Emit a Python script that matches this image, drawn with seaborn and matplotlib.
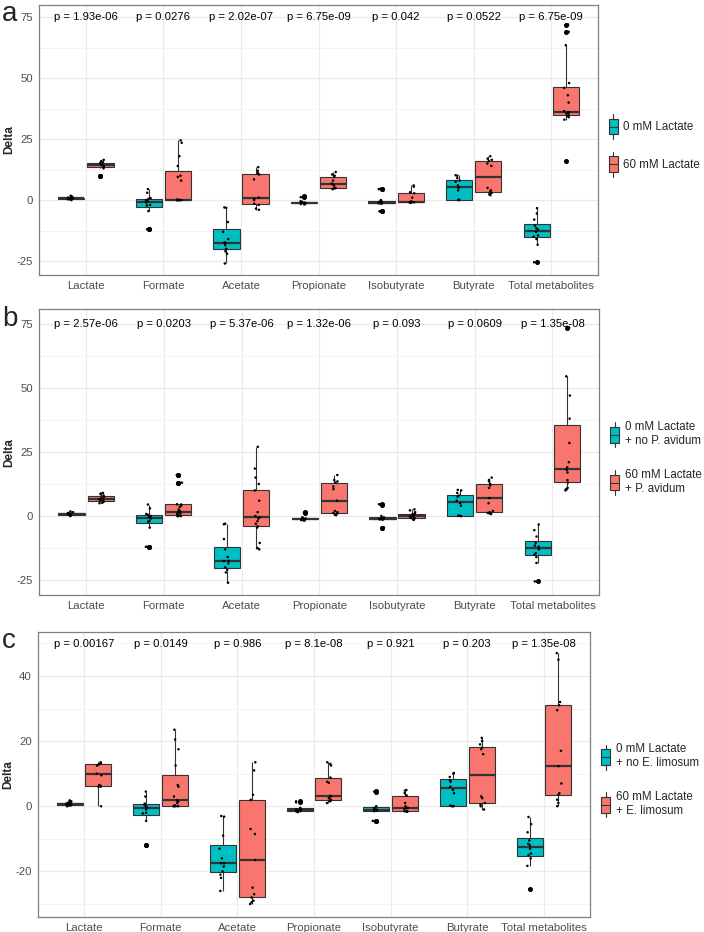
import numpy as np
import pandas as pd
import matplotlib
matplotlib.use("Agg")
import matplotlib.pyplot as plt
import seaborn as sns
from matplotlib.legend_handler import HandlerBase
from matplotlib.patches import Patch, Rectangle
from matplotlib.lines import Line2D

# categories
metabolites = ["Lactate", "Formate", "Acetate", "Propionate",
               "Isobutyrate", "Butyrate", "Total metabolites"]

# 0 mM lactate controls (same in every panel), one list per metabolite
ctrl = [
    [0.0, 0.2, 0.3, 0.5, 0.6, 0.7, 0.8, 0.9, 1.0, 1.2, 1.5, 1.8],
    [-12, -12, -4.5, -2.2, -2, -1, -0.3, 0, 0.5, 0.8, 3, 4.5],
    [-26, -22, -21, -20, -18.5, -17.5, -17.5, -16, -13, -9, -3.2, -3],
    [-1.8, -1.6, -1.5, -1.3, -1.2, -1.1, -1.0, -0.9, -0.7, -0.5, 1.2, 1.5],
    [-4.6, -4.5, -1.5, -1.3, -1.2, -1.0, -1.0, -0.8, -0.5, 0, 4.5, 4.6],
    [0, 0, 0.1, 0.2, 4, 5, 6, 7.5, 8, 9, 10, 10.2],
    [-25.5, -18.3, -16, -15, -14.5, -13, -12, -11.5, -10.5, -8, -5.5, -3.3],
]

# 60 mM lactate (panel a)
trt_a = [
    [10, 10, 13, 13.5, 14, 14.3, 14.5, 15, 15.2, 15.5, 16, 16.5],
    [0, 0, 0, 0, 0, 0, 0, 0.2, 8, 9.5, 10, 14, 18, 23.5, 24.5],
    [-4, -3.5, -2, -1.5, 0, 0.5, 1, 8.5, 10.5, 11, 12, 13.5],
    [4.5, 4.8, 5, 5, 6, 6.5, 6.8, 8, 9.5, 10, 10.5, 11.5],
    [-1.1, -1, -1, -0.9, -0.8, -0.7, -0.6, 1, 2.8, 3.2, 5.5, 6],
    [2, 2.5, 3, 3.5, 4, 5, 14, 15, 16, 16.5, 17, 18],
    [16, 33, 34, 34.5, 35, 35.5, 36, 36, 36.5, 40, 43, 46, 48, 63.5, 69, 72],
]

# 60 mM lactate + P. avidum (panel b)
trt_b = [
    [5, 5.2, 5.5, 6, 6.2, 6.5, 6.8, 7, 7.5, 8, 8.5, 8.8, 9],
    [0, 0, 0, 0, 0.2, 0.3, 0.5, 0.8, 1, 1.5, 2, 2.5, 3.5, 4, 4.5, 4.6, 13, 13, 16, 16],
    [-13, -12.5, -10.5, -4.5, -4, -3, -2, -1, -0.5, 0, 1.5, 6, 10, 12.5, 15, 18.5, 27],
    [0.3, 0.5, 1, 1.2, 1.5, 2, 6, 10.5, 11.5, 13, 13.5, 14, 16],
    [-1.5, -1, -0.8, -0.6, -0.3, 0, 0.2, 0.5, 0.7, 0.9, 1.5, 2.2, 2.6],
    [0.8, 1, 1.2, 1.5, 2, 5, 7, 11, 12, 12.5, 13.5, 14, 15],
    [10, 10.5, 11, 13, 14, 17, 18, 19, 21, 28.5, 38, 47, 54.5, 73.5],
]

# 60 mM lactate + E. limosum (panel c)
trt_c = [
    [0, 6, 6, 6.3, 6.5, 9.5, 10, 12.5, 12.8, 13, 13.2, 13.5],
    [0, 0, 0, 0, 0.3, 1, 1.5, 1.8, 3, 6, 6.5, 12.5, 17.5, 20.5, 23.5],
    [-30, -29.5, -29, -28, -27, -25, -16.5, -8.5, -7, 2, 3.5, 11, 13.5],
    [1, 1.5, 1.8, 2, 2.5, 3, 3.2, 7.2, 7.5, 8.8, 12.5, 13, 13.5],
    [-1.7, -1.6, -1.5, -1.5, -0.8, -0.6, -0.5, 0, 1, 3.3, 4, 4.8, 5],
    [-1, 0, 0.5, 1, 2.5, 3, 16, 17.5, 18, 19, 20, 21],
    [0, 1, 2, 3.5, 4, 7, 12.3, 17, 29.5, 31, 32, 45, 47],
]

p_a = ["1.93e-06", "0.0276", "2.02e-07", "6.75e-09", "0.042", "0.0522", "6.75e-09"]
p_b = ["2.57e-06", "0.0203", "5.37e-06", "1.32e-06", "0.093", "0.0609", "1.35e-08"]
p_c = ["0.00167", "0.0149", "0.986", "8.1e-08", "0.921", "0.203", "1.35e-08"]

labels_a = ["0 mM Lactate", "60 mM Lactate"]
labels_b = ["0 mM Lactate\n+ no P. avidum", "60 mM Lactate\n+ P. avidum"]
labels_c = ["0 mM Lactate\n+ no E. limosum", "60 mM Lactate\n+ E. limosum"]

TEAL = "#00BFC4"
SALMON = "#F8766D"
EDGE = "#333333"

sns.set_style("whitegrid")
plt.rcParams["font.family"] = ["Liberation Sans", "DejaVu Sans"]
plt.rcParams["axes.unicode_minus"] = False


class BoxKey(HandlerBase):
    # ggplot-like boxplot legend key
    def create_artists(self, legend, orig_handle, xdescent, ydescent,
                       width, height, fontsize, trans):
        x0, y0 = -xdescent, -ydescent
        cx = x0 + width / 2
        whisk = Line2D([cx, cx], [y0 - 0.3 * height, y0 + 1.3 * height],
                       color=EDGE, lw=0.8, transform=trans)
        box = Rectangle((x0, y0), width, height,
                        facecolor=orig_handle.get_facecolor(),
                        edgecolor=EDGE, lw=0.8, transform=trans)
        med = Line2D([x0, x0 + width], [y0 + height / 2] * 2,
                     color=EDGE, lw=0.8, transform=trans)
        return [whisk, box, med]


def make_df(trt, labels):
    rows = []
    for m, c, t in zip(metabolites, ctrl, trt):
        rows += [(m, labels[0], v) for v in c]
        rows += [(m, labels[1], v) for v in t]
    return pd.DataFrame(rows, columns=["metabolite", "group", "value"])


def panel(ax, trt, labels, pvals, ylim, yticks, minor, ptext_y, letter):
    df = make_df(trt, labels)
    pal = {labels[0]: TEAL, labels[1]: SALMON}
    sns.boxplot(data=df, x="metabolite", y="value", hue="group",
                order=metabolites, hue_order=labels, palette=pal,
                width=0.75, gap=0.1, linecolor=EDGE, linewidth=0.8,
                saturation=1, whis=1.5, legend=False, ax=ax,
                capprops={"linewidth": 0},
                medianprops={"linewidth": 1.6},
                flierprops=dict(marker="o", markersize=2.6,
                                markerfacecolor="black",
                                markeredgecolor="black"))
    sns.stripplot(data=df, x="metabolite", y="value", hue="group",
                  order=metabolites, hue_order=labels,
                  palette=["black", "black"], dodge=True, jitter=0.07,
                  size=1.8, linewidth=0, legend=False, ax=ax)
    for i, p in enumerate(pvals):
        ax.text(i, ptext_y, f"p = {p}", ha="center", va="center",
                fontsize=8.1, color="black")
    ax.set_ylim(*ylim)
    ax.set_yticks(yticks)
    ax.set_yticks(minor, minor=True)
    ax.set_xlim(-0.6, len(metabolites) - 0.4)
    ax.grid(True, which="major", color="#EBEBEB", lw=0.9)
    ax.grid(True, which="minor", axis="y", color="#F2F2F2", lw=0.6)
    ax.set_axisbelow(True)
    ax.set_xlabel("")
    ax.set_ylabel("Delta", fontsize=8.5, fontweight="bold", labelpad=1)
    ax.tick_params(axis="both", which="major", labelsize=8.2,
                   labelcolor="#4D4D4D", length=2.5, color="#333333",
                   width=0.6, pad=2)
    ax.tick_params(axis="y", which="minor", length=0)
    for s in ax.spines.values():
        s.set_color("#7F7F7F")
        s.set_linewidth(0.9)
    handles = [Patch(facecolor=TEAL), Patch(facecolor=SALMON)]
    ax.legend(handles, labels, handler_map={Patch: BoxKey()},
              loc="center left", bbox_to_anchor=(1.012, 0.48), frameon=False,
              fontsize=8.3, handlelength=0.75, handleheight=1.7,
              handletextpad=0.5, labelspacing=1.9, borderaxespad=0)
    ax.figure.text(0.003, ax.get_position().y1 + 0.004, letter, fontsize=20,
                   va="top", ha="left")


fig = plt.figure(figsize=(7.04, 9.32), dpi=100)
ax_a = fig.add_axes([0.056, 0.705, 0.793, 0.2896])
ax_b = fig.add_axes([0.056, 0.3616, 0.795, 0.3064])
ax_c = fig.add_axes([0.054, 0.0161, 0.784, 0.3058])

panel(ax_a, trt_a, labels_a, p_a, (-30.7, 80), [-25, 0, 25, 50, 75],
      [-12.5, 12.5, 37.5, 62.5], 75, "a")
panel(ax_b, trt_b, labels_b, p_b, (-30.8, 80.6), [-25, 0, 25, 50, 75],
      [-12.5, 12.5, 37.5, 62.5], 75, "b")
panel(ax_c, trt_c, labels_c, p_c, (-34, 53.5), [-20, 0, 20, 40],
      [-30, -10, 10, 30, 50], 49.8, "c")

fig.savefig("out.png", dpi=100)
